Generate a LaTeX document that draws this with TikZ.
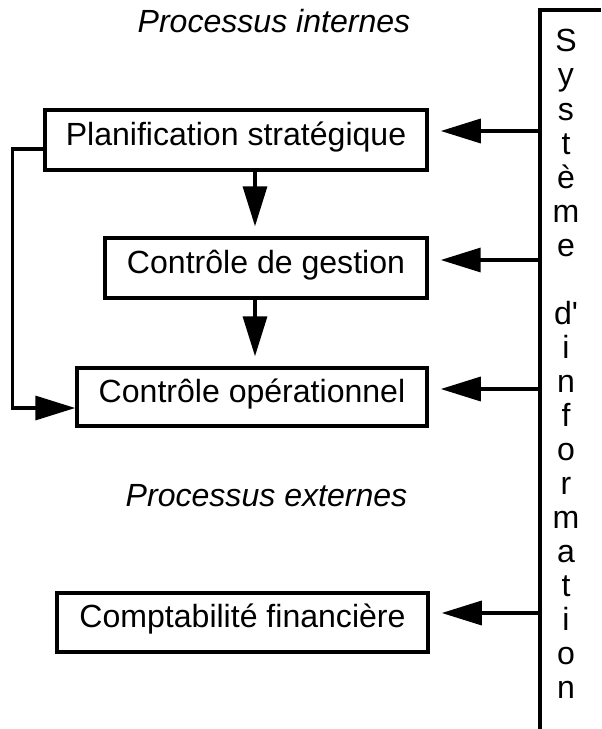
\documentclass[tikz,border=0pt]{standalone}
\usepackage{fontspec}
\setmainfont{Liberation Sans}
\usetikzlibrary{arrows.meta}

\begin{document}
\begin{tikzpicture}[x=0.025cm,y=-0.025cm,line width=2.4pt,
  every node/.style={font=\fontsize{22.8pt}{27pt}\selectfont},
  procbox/.style={draw,inner sep=0pt,text height=16.3pt,text depth=8.5pt,minimum height=1.5cm},
  arr/.style={-{Triangle[length=1cm,width=0.6cm]}}]
\useasboundingbox (0,0) rectangle (601,729);
\node[anchor=base] (titint) at (274,33) {\itshape Processus internes};
\node[anchor=base] (titext) at (266.5,506) {\itshape Processus externes};
\node[procbox,minimum width=9.55cm] (plan) at (236,140) {Planification stratégique};
\node[procbox,minimum width=8.05cm] (gest) at (266,268) {Contrôle de gestion};
\node[procbox,minimum width=8.75cm,minimum height=1.45cm] (oper) at (252,397) {Contrôle opérationnel};
\node[procbox,minimum width=9.275cm,minimum height=1.475cm] (compta) at (242.5,622.5) {Comptabilité financière};
\draw (601,10) -- (540,10) -- (540,729);
\foreach \l [count=\i] in {S,y,s,t,è,m,e,{},d\textquotesingle,i,n,f,o,r,m,a,t,i,o,n}
  \node[anchor=base] (lettre\i) at (566,{52+34*(\i-1)}) {\l};
\coordinate (s1) at (540,131);
\coordinate (s2) at (540,260);
\coordinate (s3) at (540,389);
\coordinate (s4) at (540,613);
\foreach \n/\b in {1/plan,2/gest,3/oper,4/compta}
  \draw[arr,shorten >=0.3cm] (s\n) -- (\b.east |- s\n);
\coordinate (mid) at (255,0);
\draw[arr,shorten >=0.25cm] (plan.south -| mid) -- (gest.north -| mid);
\draw[arr,shorten >=0.25cm] (gest.south -| mid) -- (oper.north -| mid);
\draw[arr] ([yshift=-0.225cm]plan.west) -- ++(-31,0) |- ([yshift=-0.275cm]oper.west);
\end{tikzpicture}
\end{document}
